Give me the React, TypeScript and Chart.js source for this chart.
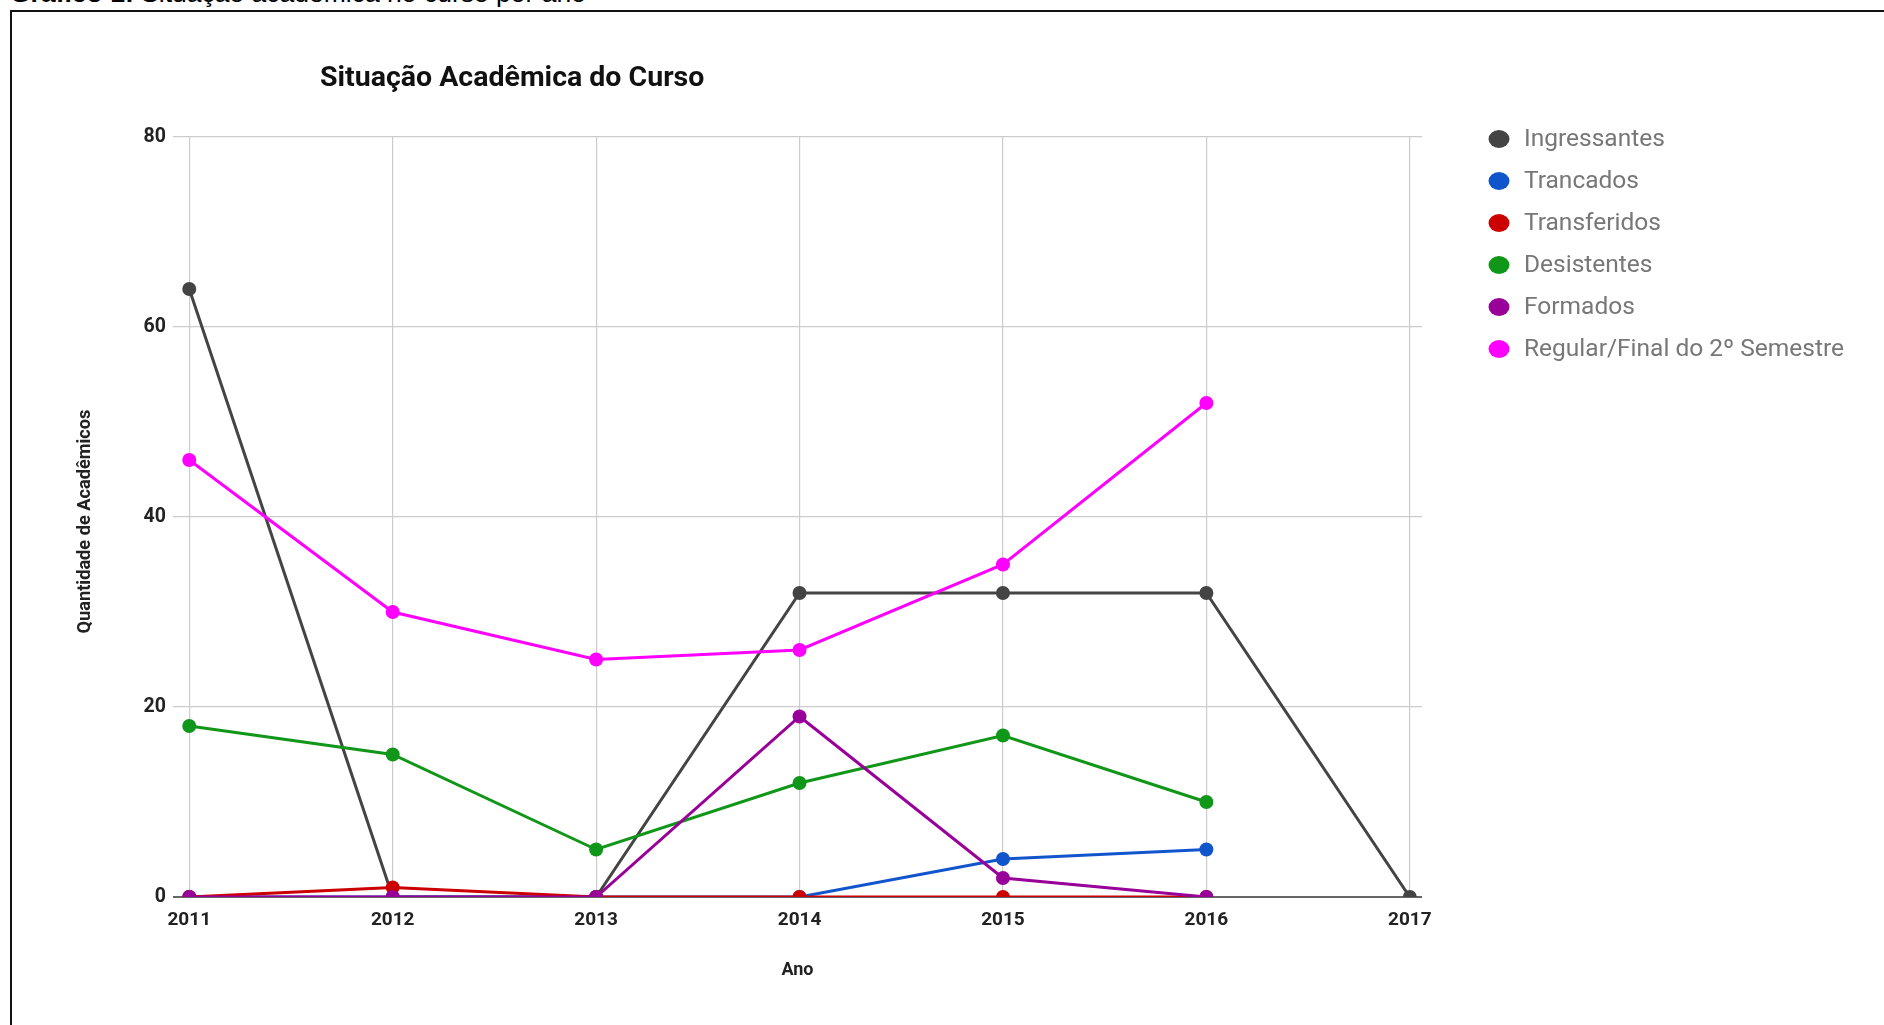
import { useEffect, useRef } from "react";
import { Chart, registerables } from "chart.js";

Chart.register(...registerables);

// Academic situation of the course, per year
const years = [2011, 2012, 2013, 2014, 2015, 2016, 2017];
const ingressantes = [64, 0, 0, 32, 32, 32, 0];
const trancados = [0, 0, 0, 0, 4, 5, null];
const transferidos = [0, 1, 0, 0, 0, 0, null];
const desistentes = [18, 15, 5, 12, 17, 10, null];
const formados = [0, 0, 0, 19, 2, 0, null];
const regularFinal = [46, 30, 25, 26, 35, 52, null];

const seriesLabels = [
  "Ingressantes",
  "Trancados",
  "Transferidos",
  "Desistentes",
  "Formados",
  "Regular/Final do 2º Semestre",
];
const seriesValues = [ingressantes, trancados, transferidos, desistentes, formados, regularFinal];
const seriesColors = ["#444444", "#1155cc", "#cc0000", "#109618", "#990099", "#ff00ff"];

const yTickValues = [0, 20, 40, 60, 80];

const captionBold = "Gráfico 1:";
const captionText = " Situação acadêmica no curso por ano";
const chartTitle = "Situação Acadêmica do Curso";
const xAxisTitle = "Ano";
const yAxisTitle = "Quantidade de Acadêmicos";

// Chart title above the plot and the series legend on the right
const titleAndLegend = {
  id: "titleAndLegend",
  afterDraw(chart: any) {
    const { ctx, chartArea } = chart;
    ctx.save();
    ctx.fillStyle = "#111111";
    ctx.font = "bold 28.5px Roboto";
    ctx.textAlign = "left";
    ctx.textBaseline = "alphabetic";
    ctx.fillText(chartTitle, chartArea.left + 147, 86);

    chart.data.datasets.forEach((ds: any, i: number) => {
      const y = chartArea.top + 2 + i * 42;
      ctx.fillStyle = ds.borderColor;
      ctx.beginPath();
      ctx.ellipse(chartArea.right + 77, y, 10.5, 9, 0, 0, Math.PI * 2);
      ctx.fill();
      ctx.fillStyle = "#777777";
      ctx.font = "24.5px Roboto";
      ctx.textBaseline = "middle";
      ctx.fillText(ds.label, chartArea.right + 102, y + 1);
    });
    ctx.restore();
  },
};

function SituacaoChart() {
  const canvasRef = useRef<HTMLCanvasElement | null>(null);

  useEffect(() => {
    const canvas = canvasRef.current;
    if (!canvas) return;

    const datasets = seriesLabels.map((label, i) => ({
      label,
      data: years.map((x, j) => ({ x, y: seriesValues[i][j] })),
      borderColor: seriesColors[i],
      backgroundColor: seriesColors[i],
      pointBackgroundColor: seriesColors[i],
      pointBorderWidth: 0,
      pointRadius: 7,
      borderWidth: 3,
      tension: 0,
      spanGaps: false,
      order: seriesLabels.length - i,
    }));

    const chart = new Chart(canvas, {
      type: "line",
      data: { datasets },
      plugins: [titleAndLegend],
      options: {
        animation: false,
        responsive: false,
        maintainAspectRatio: false,
        layout: { padding: { left: 62, top: 137, right: 462, bottom: 37 } },
        plugins: {
          legend: { display: false },
          title: { display: false },
          tooltip: { enabled: false },
        },
        scales: {
          x: {
            type: "linear",
            min: 2010.92,
            max: 2017.06,
            afterBuildTicks: (scale: any) => {
              scale.ticks = years.map((value) => ({ value }));
            },
            afterFit: (scale: any) => {
              scale.height = 91;
            },
            border: { display: false },
            grid: { color: "#cccccc", lineWidth: 1.2, drawTicks: false },
            ticks: {
              padding: 12,
              color: "#222222",
              font: { family: "Roboto", size: 19, weight: "bold" },
              callback: (v: any) => String(v),
            },
            title: {
              display: true,
              text: xAxisTitle,
              color: "#222222",
              font: { family: "Roboto", size: 18, weight: "bold" },
              padding: { top: 0, bottom: 6.5 },
            },
          },
          y: {
            type: "linear",
            min: 0,
            max: 80,
            afterBuildTicks: (scale: any) => {
              scale.ticks = yTickValues.map((value) => ({ value }));
            },
            afterFit: (scale: any) => {
              scale.width = 111;
            },
            border: { display: false },
            grid: {
              drawTicks: false,
              color: (c: any) => (c.tick && c.tick.value === 0 ? "#666666" : "#cccccc"),
              lineWidth: (c: any) => (c.tick && c.tick.value === 0 ? 2 : 1.2),
            },
            ticks: {
              padding: 7,
              color: "#222222",
              font: { family: "Roboto", size: 19.5, weight: "bold" },
            },
            title: {
              display: true,
              text: yAxisTitle + "  ",
              color: "#222222",
              font: { family: "Roboto", size: 18.2, weight: "bold" },
              padding: { top: 13, bottom: 0 },
            },
          },
        },
      },
    } as any);

    if ((document as any).fonts && (document as any).fonts.load) {
      Promise.all([
        (document as any).fonts.load("bold 28px Roboto"),
        (document as any).fonts.load("24px Roboto"),
      ]).then(() => chart.update());
    }

    return () => chart.destroy();
  }, []);

  return (
    <canvas
      ref={canvasRef}
      width={1884}
      height={1025}
      style={{ position: "absolute", left: 0, top: 0, width: 1884, height: 1025 }}
    />
  );
}

export default function App() {
  return (
    <div
      style={{
        position: "fixed",
        left: 0,
        top: 0,
        width: 1884,
        height: 1025,
        overflow: "hidden",
        background: "#ffffff",
      }}
    >
      <div
        style={{
          position: "absolute",
          left: 10,
          top: -20,
          fontFamily: "'Liberation Sans', Arial, sans-serif",
          fontSize: 26.5,
          lineHeight: "26.5px",
          color: "#000000",
          whiteSpace: "nowrap",
        }}
      >
        <b>{captionBold}</b>
        {captionText}
      </div>
      <div
        style={{
          position: "absolute",
          left: 10,
          top: 10,
          width: 1900,
          height: 1100,
          border: "2px solid #111111",
          boxSizing: "border-box",
        }}
      />
      <SituacaoChart />
    </div>
  );
}
